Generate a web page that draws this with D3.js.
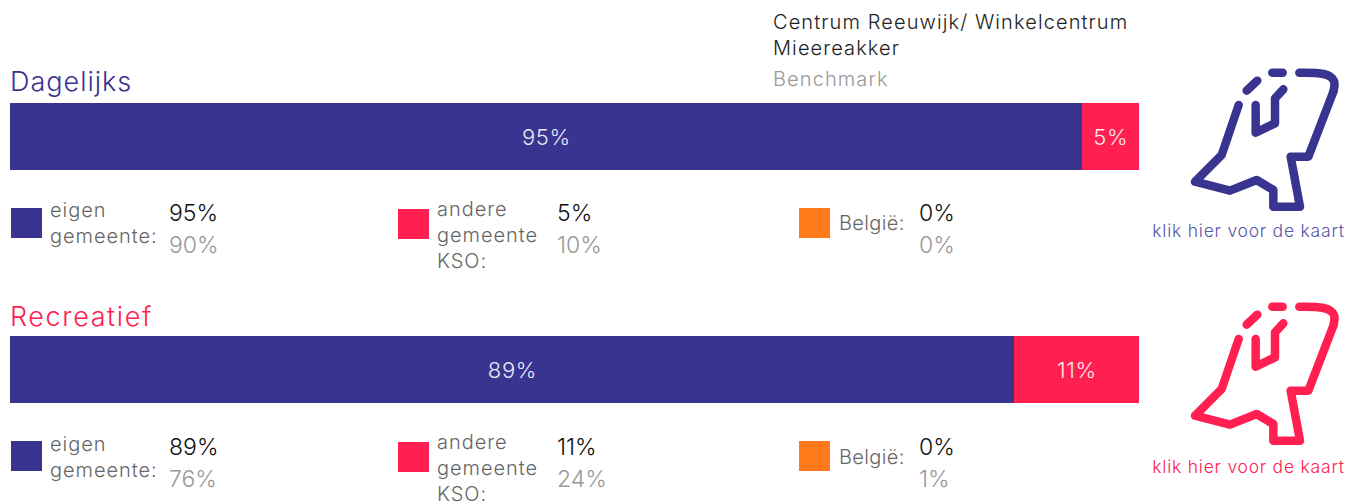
<!DOCTYPE html>
<html><head><meta charset="utf-8">
<script src="https://cdnjs.cloudflare.com/ajax/libs/d3/7.8.5/d3.min.js"></script>
<style>
html,body{margin:0;padding:0;background:#fff;overflow:hidden}
text{font-family:Inter,"Open Sans",sans-serif;font-weight:300}
</style></head><body><svg id="c" width="1358" height="502"></svg>
<script>
const categories=["Dagelijks","Recreatief"];
const titleColors=["#38348f","#ff2051"];
const eigen=[95,89], andere=[5,11], belgie=[0,0];
const benchEigen=[90,76], benchAndere=[10,24], benchBelgie=[0,1];
const legendLabels=[["eigen","gemeente:"],["andere","gemeente","KSO:"],["België:"]];
const segColors=["#38348f","#ff2051","#ff7a1a"];
const header=["Centrum Reeuwijk/ Winkelcentrum","Mieereakker"];
const benchName="Benchmark";
const linkText="klik hier voor de kaart";
const svg=d3.select("#c");
const x=d3.scaleLinear().domain([0,100]).range([10,1139]);
const T=(s,px,py,size,fill,anchor,ls)=>svg.append("text").attr("x",px).attr("y",py).attr("font-size",size).attr("fill",fill)
  .attr("text-anchor",anchor||"start").attr("letter-spacing",ls==null?0.6:ls).text(s);
T(header[0],773,29,20,"#222","start",1.1);
T(header[1],773,55,20,"#222","start",1.1);
T(benchName,773,86,20,"#999","start",1.1);
const iconOuter=[[296,135],[245,285],[165,365],[270,392],[350,360],[400,390],[400,440],[480,440],[452,290],[505,290],[580,95]];
const iconCurve=[[580,95],[588,62],[545,38],[478,38]];
const iconBits=[[[397,38],[428,38]],[[320,92],[352,62]],[[347,135],[347,218],[405,190],[405,115],[430,88]]];
const line=d3.line().x(d=>d[0]/3).y(d=>d[1]/3);
const rows=[0,233];
categories.forEach((c,i)=>{
  const dy=rows[i];
  T(c,10,91+dy+(i?2:0),27,titleColors[i],"start",i?1.6:1);
  const a=eigen[i], b=andere[i];
  const x0=Math.floor(x(0)), x1=Math.floor(x(a)), x2=Math.ceil(x(a+b));
  svg.append("rect").attr("x",x0).attr("y",103+dy).attr("width",x1-x0).attr("height",67).attr("fill",segColors[0]);
  svg.append("rect").attr("x",x1).attr("y",103+dy).attr("width",x2-x1).attr("height",67).attr("fill",segColors[1]);
  T(a+"%",(x(0)+x(a))/2,145+dy,22,"#e8e8f4","middle");
  T(b+"%",(x(a)+x(a+b))/2,145+dy,22,"#ffe4ea","middle");
  const sx=[11,398,799], lx=[50,437,839], vx=[169,557,919];
  const sy=[208,209,208];
  const ly=[[217,243],[216,242,268],[230]];
  const lyShift=[1,-0.5,1];
  const vals=[eigen[i],andere[i],belgie[i]], bench=[benchEigen[i],benchAndere[i],benchBelgie[i]];
  legendLabels.forEach((lab,k)=>{
    svg.append("rect").attr("x",sx[k]).attr("y",sy[k]+dy).attr("width",31).attr("height",30).attr("fill",segColors[k]);
    lab.forEach((t,m)=>T(t,lx[k],ly[k][m]+dy+(i?lyShift[k]:0),20,"#666","start",k<2?0.95:0.35));
    T(vals[k]+"%",vx[k],221+dy+(i?0.5:0),23,"#111","start",0);
    T(bench[k]+"%",vx[k],253+dy+(i?0.5:0),23,"#999","start",0);
  });
  const g=svg.append("g").attr("transform",`translate(1140,${60+(i?234:0)})`).attr("fill","none")
    .attr("stroke",titleColors[i]).attr("stroke-width",8.5).attr("stroke-linecap","round").attr("stroke-linejoin","round");
  g.append("path").attr("d",line(iconOuter));
  g.append("path").attr("d",d3.line().x(d=>d[0]/3).y(d=>d[1]/3).curve(d3.curveBasis)([iconCurve[0],iconCurve[0],iconCurve[1],[560,38],iconCurve[3],iconCurve[3]]));
  iconBits.forEach(p=>g.append("path").attr("d",line(p)));
  T(linkText,1248.5,i?473:237,17.5,i?"#ff2051":"#5a56a8","middle",0.78);
});
</script></body></html>
